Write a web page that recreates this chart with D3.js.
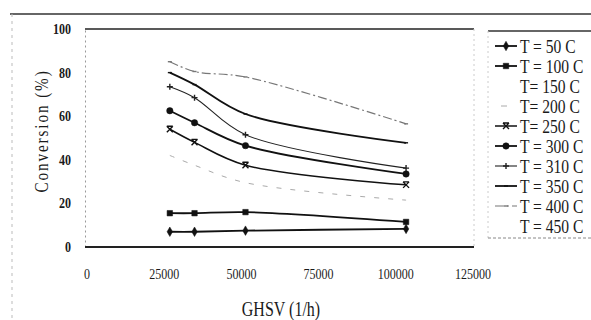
<html>
<head>
    <script src="https://d3js.org/d3.v7.min.js"></script>
    <style>
        body { margin: 0; background: #fff; }
        text { font-family: "Liberation Serif", serif; fill: #1a1a1a; }
    </style>
</head>
<body>
<div id="chart"></div>

<script>
    // GHSV values (1/h) where conversions were measured
    var ghsv = [26500, 34500, 51000, 103000]

    var xTicks = [0, 25000, 50000, 75000, 100000, 125000]
    var yTicks = [0, 20, 40, 60, 80, 100]

    var labels = ["T = 50 C", "T = 100 C", "T= 150 C", "T= 200 C", "T= 250 C",
                  "T = 300 C", "T = 310 C", "T = 350 C", "T = 400 C", "T = 450 C"]

    // conversion (%) per temperature, null = not drawn in the figure
    var t50  = [7, 7, 7.5, 8.3]
    var t100 = [15.5, 15.5, 16, 11.5]
    var t150 = null
    var t200 = [42, 37.5, 29.5, 21.5]
    var t250 = [54, 48, 37.5, 28.5]
    var t300 = [62.5, 57, 46.5, 33.5]
    var t310 = [73.5, 68.5, 51.5, 36.2]
    var t350 = [80, 74.5, 61, 47.8]
    var t400 = [85, 80.5, 78, 56.5]
    var t450 = null

    var values = [t50, t100, t150, t200, t250, t300, t310, t350, t400, t450]

    var styles = [
        {stroke: "#111", width: 1.8, dash: null,      marker: "diamond"},
        {stroke: "#111", width: 1.8, dash: null,      marker: "square"},
        null,
        {stroke: "#aaa", width: 1,   dash: "5,9",     marker: null},
        {stroke: "#111", width: 1.5, dash: null,      marker: "x"},
        {stroke: "#111", width: 1.8, dash: null,      marker: "circle"},
        {stroke: "#222", width: 1.1, dash: null,      marker: "plus"},
        {stroke: "#111", width: 1.8, dash: null,      marker: "dot"},
        {stroke: "#777", width: 1.2, dash: "9,3,2,3", marker: "dot"},
        null
    ]

    var svg = d3.select("#chart")
        .append("svg")
        .attr("width", 591)
        .attr("height", 320)

    var x = d3.scaleLinear().domain([0, 125000]).range([88, 474])
    var y = d3.scaleLinear().domain([0, 100]).range([247, 29])

    /* outer chart border */
    svg.append("line").attr("x1", 10).attr("x2", 591).attr("y1", 14).attr("y2", 14)
        .attr("stroke", "#333").attr("stroke-width", 1.5)
    svg.append("line").attr("x1", 12).attr("x2", 12).attr("y1", 14).attr("y2", 320)
        .attr("stroke", "#bbb").attr("stroke-dasharray", "3,4")

    /* plot area frame */
    svg.append("line").attr("x1", 85).attr("x2", 474).attr("y1", y(100)).attr("y2", y(100))
        .attr("stroke", "#222").attr("stroke-width", 1.6)
    svg.append("line").attr("x1", 474).attr("x2", 474).attr("y1", y(100)).attr("y2", y(0))
        .attr("stroke", "#ccc").attr("stroke-dasharray", "2,3")

    // left axis: faint dotted line
    var yAxis = svg.append("g")
        .attr("transform", "translate(85,0)")
        .call(d3.axisLeft(y).tickValues(yTicks).tickSize(0).tickFormat(""))
    yAxis.select(".domain").attr("stroke", "#999").attr("stroke-dasharray", "2,3")
    yAxis.selectAll(".tick").remove()

    svg.selectAll(".ytick")
        .data(yTicks)
        .enter()
        .append("text")
        .attr("class", "ytick")
        .attr("transform", function(d){ return "translate(71," + (y(d) + 5) + ") scale(0.8,1)" })
        .attr("text-anchor", "end")
        .attr("font-size", 15)
        .attr("font-weight", "bold")
        .text(function(d){ return d })

    svg.append("line").attr("x1", 85).attr("x2", 474).attr("y1", y(0)).attr("y2", y(0))
        .attr("stroke", "#222").attr("stroke-width", 2)

    svg.selectAll(".xtick")
        .data(xTicks)
        .enter()
        .append("text")
        .attr("class", "xtick")
        .attr("transform", function(d){ return "translate(" + (x(d) - 1) + ",279) scale(0.8,1)" })
        .attr("text-anchor", "middle")
        .attr("font-size", 15)
        .text(function(d){ return d })

    /* axis titles */
    svg.append("text")
        .attr("transform", "translate(281,316) scale(0.8,1)")
        .attr("text-anchor", "middle")
        .attr("font-size", 20)
        .text("GHSV (1/h)")

    svg.append("text")
        .attr("transform", "translate(48,131) rotate(-90) scale(0.95,1.15)")
        .attr("text-anchor", "middle")
        .attr("font-family", "Liberation Sans, sans-serif")
        .attr("font-size", 16)
        .attr("letter-spacing", 2)
        .text("Conversion (%)")

    /* series */
    var line = d3.line()
        .x(function(d){ return x(d[0]) })
        .y(function(d){ return y(d[1]) })
        .curve(d3.curveCatmullRom)

    function markerPath(kind) {
        if (kind == "diamond") return d3.symbol().type(d3.symbolDiamond).size(26)()
        if (kind == "square") return d3.symbol().type(d3.symbolSquare).size(30)()
        if (kind == "circle") return d3.symbol().type(d3.symbolCircle).size(32)()
        if (kind == "x") return "M-3,-3L3,3M-3,3L3,-3M-3,-3L3,-3"
        if (kind == "plus") return "M-3,0L3,0M0,-3L0,3"
        return "M-2,0L2,0"
    }

    function drawMarker(g, kind, px, py, st) {
        var filled = (kind == "diamond" || kind == "square" || kind == "circle")
        g.append("path")
            .attr("d", markerPath(kind))
            .attr("transform", "translate(" + px + "," + py + ")")
            .attr("fill", filled ? st.stroke : "none")
            .attr("stroke", st.stroke)
            .attr("stroke-width", filled ? 0.5 : 1.4)
    }

    values.forEach(function(vals, i){
        var st = styles[i]
        if (!vals || !st) return
        var pts = ghsv.map(function(g, j){ return [g, vals[j]] })
        var g = svg.append("g")
        g.append("path")
            .attr("d", line(pts))
            .attr("fill", "none")
            .attr("stroke", st.stroke)
            .attr("stroke-width", st.width)
            .attr("stroke-dasharray", st.dash)
        if (st.marker) {
            pts.forEach(function(p){ drawMarker(g, st.marker, x(p[0]), y(p[1]), st) })
        }
    })

    /* legend */
    var legend = svg.append("g")
    legend.append("line").attr("x1", 488).attr("x2", 591).attr("y1", 31).attr("y2", 31)
        .attr("stroke", "#333").attr("stroke-width", 1.5)
    legend.append("line").attr("x1", 488).attr("x2", 488).attr("y1", 31).attr("y2", 238)
        .attr("stroke", "#ccc").attr("stroke-dasharray", "2,3")
    legend.append("line").attr("x1", 488).attr("x2", 591).attr("y1", 238).attr("y2", 238)
        .attr("stroke", "#888").attr("stroke-dasharray", "3,2")

    var rows = legend.selectAll(".row")
        .data(labels)
        .enter()
        .append("g")
        .attr("class", "row")
        .attr("transform", function(d, i){ return "translate(0," + (46 + i * 20) + ")" })

    rows.each(function(d, i){
        var st = styles[i]
        var r = d3.select(this)
        if (st) {
            if (st.dash == "5,9") {
                r.append("line").attr("x1", 501).attr("x2", 507).attr("y1", 0).attr("y2", 0)
                    .attr("stroke", st.stroke).attr("stroke-width", 1)
            } else {
                r.append("line").attr("x1", 495).attr("x2", 517).attr("y1", 0).attr("y2", 0)
                    .attr("stroke", st.stroke).attr("stroke-width", st.width)
                    .attr("stroke-dasharray", st.dash)
                drawMarker(r, st.marker, 506, 0, st)
            }
        }
        r.append("text")
            .attr("transform", "translate(520,6.5) scale(0.82,1)")
            .attr("font-size", 19)
            .text(d)
    })
</script>

</body>
</html>
